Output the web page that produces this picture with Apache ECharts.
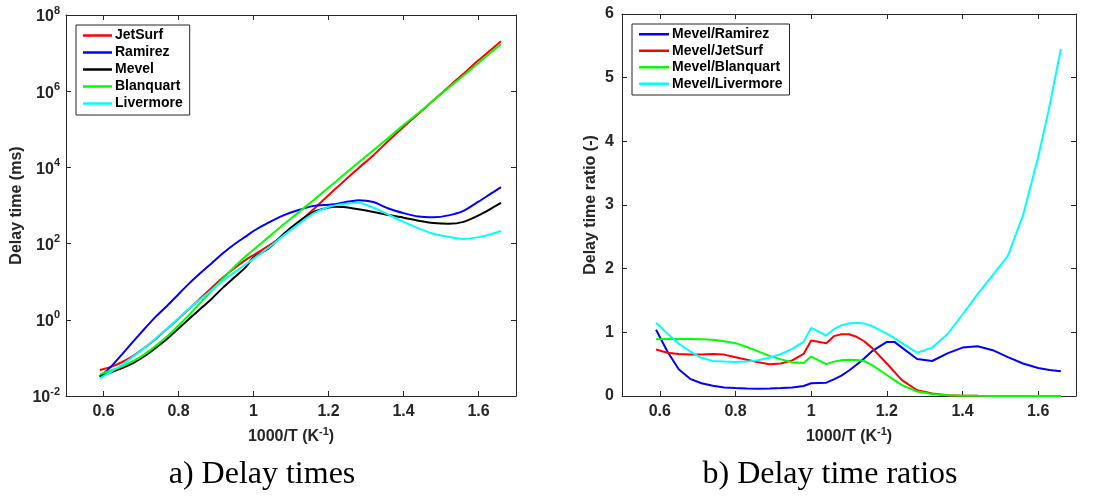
<!DOCTYPE html>
<html>
<head>
<meta charset="utf-8">
<script src="https://cdn.jsdelivr.net/npm/echarts@6/dist/echarts.min.js"></script>
<style>
  html, body { margin: 0; padding: 0; background: #fff; }
  #chart { width: 1119px; height: 498px; }
</style>
</head>
<body>
<div id="chart"></div>
<script>
// Ignition delay times (ms) against inverse temperature, one array per mechanism
const xDelay = [0.59, 0.62, 0.65, 0.68, 0.71, 0.74, 0.77, 0.80, 0.83, 0.86, 0.89, 0.92, 0.95, 0.98,
                1.00, 1.04, 1.08, 1.12, 1.16, 1.20, 1.22, 1.24,
                1.28, 1.32, 1.36, 1.40, 1.44, 1.48, 1.52, 1.56, 1.60, 1.63, 1.66];
const jetSurf = [0.048, 0.058, 0.078, 0.115, 0.186, 0.32, 0.58, 1.07, 2.0, 3.8, 7.2, 13.2, 23, 38,
                 50, 87, 166, 355, 794, 1860, 2820, 4270,
                 9550, 20900, 50100, 1.15e5, 2.57e5, 5.75e5, 1.29e6, 2.88e6, 6.46e6, 1.15e7, 2.04e7];
const ramirez = [0.032, 0.059, 0.126, 0.275, 0.59, 1.23, 2.34, 4.7, 9.3, 17.4, 31.6, 57.5, 98, 155,
                 214, 355, 550, 759, 977, 1047, 1096, 1202,
                 1380, 1230, 832, 631, 513, 490, 550, 724, 1259, 1950, 3020];
const mevel = [0.033, 0.042, 0.054, 0.074, 0.112, 0.186, 0.32, 0.59, 1.10, 2.0, 3.7, 7.2, 13.2, 24.5,
               43, 74, 178, 372, 676, 891, 933, 912,
               794, 676, 562, 479, 398, 347, 331, 372, 550, 794, 1175];
const blanquart = [0.037, 0.047, 0.060, 0.083, 0.126, 0.21, 0.37, 0.71, 1.41, 2.9, 6.0, 12.6, 25, 47,
                   69, 148, 316, 660, 1380, 2950, 4270, 6300,
                   13500, 28200, 60300, 1.29e5, 2.69e5, 5.75e5, 1.23e6, 2.57e6, 5.5e6, 9.8e6, 1.7e7];
const livermore = [0.029, 0.043, 0.066, 0.11, 0.186, 0.33, 0.59, 1.10, 2.04, 3.55, 6.2, 11, 17.8, 28.8,
                   40, 78, 162, 324, 617, 912, 1023, 1096,
                   1175, 871, 575, 372, 251, 182, 151, 132, 148, 174, 214];

// Ratios of the Mevel delay time to each other mechanism
const xRatio = [0.59, 0.62, 0.65, 0.68, 0.71, 0.74, 0.77, 0.80, 0.83, 0.86, 0.89, 0.92, 0.95, 0.98,
                1.00, 1.04, 1.06, 1.08, 1.10, 1.12, 1.14, 1.16, 1.20, 1.22, 1.24,
                1.28, 1.32, 1.36, 1.40, 1.44, 1.48, 1.52, 1.56, 1.60, 1.63, 1.66];
const ratioRamirez = [1.04, 0.70, 0.42, 0.27, 0.20, 0.16, 0.135, 0.125, 0.118, 0.115, 0.118, 0.125, 0.135, 0.157,
                      0.20, 0.21, 0.26, 0.32, 0.40, 0.49, 0.59, 0.70, 0.85, 0.85, 0.76,
                      0.58, 0.55, 0.67, 0.76, 0.78, 0.72, 0.61, 0.51, 0.44, 0.41, 0.39];
const ratioJetSurf = [0.73, 0.68, 0.66, 0.65, 0.65, 0.66, 0.65, 0.61, 0.57, 0.53, 0.50, 0.51, 0.56, 0.66,
                      0.87, 0.83, 0.94, 0.97, 0.97, 0.93, 0.86, 0.76, 0.51, 0.38, 0.25,
                      0.09, 0.04, 0.012, 0.004, 0.002, 0.001, 0, 0, 0, 0, 0];
const ratioBlanquart = [0.89, 0.895, 0.895, 0.895, 0.89, 0.885, 0.86, 0.83, 0.77, 0.70, 0.63, 0.575, 0.53, 0.52,
                        0.62, 0.50, 0.54, 0.56, 0.57, 0.565, 0.55, 0.49, 0.33, 0.25, 0.17,
                        0.07, 0.03, 0.012, 0.004, 0.002, 0.001, 0, 0, 0, 0, 0];
const ratioLivermore = [1.15, 0.98, 0.82, 0.70, 0.60, 0.55, 0.54, 0.535, 0.54, 0.56, 0.60, 0.66, 0.74, 0.85,
                        1.07, 0.95, 1.05, 1.11, 1.14, 1.15, 1.14, 1.10, 0.98, 0.91, 0.83,
                        0.68, 0.76, 0.97, 1.28, 1.60, 1.90, 2.20, 2.84, 3.75, 4.55, 5.45];

// Tick positions
const xTicks = [0.6, 0.8, 1.0, 1.2, 1.4, 1.6];
const logTicks = [1e-2, 1e0, 1e2, 1e4, 1e6, 1e8];

const AX = '#262626';
const FONT = '"Liberation Sans", Arial, sans-serif';

const pairs = (xs, ys) => xs.map((x, i) => [x, ys[i]]);

function line(name, color, xs, ys, xi, yi, smooth) {
  return {
    name, type: 'line', xAxisIndex: xi, yAxisIndex: yi,
    data: pairs(xs, ys), symbol: 'none', smooth: smooth,
    lineStyle: { color, width: 2 }, itemStyle: { color },
    emphasis: { disabled: true }, animation: false
  };
}

const supRich = {
  t: { fontSize: 16, fontWeight: 'bold', color: AX, fontFamily: FONT, verticalAlign: 'bottom' },
  s: { fontSize: 11, fontWeight: 'bold', color: AX, fontFamily: FONT, verticalAlign: 'bottom', padding: [0, 0, 8, 0] }
};

function xAxisPair(gi) {
  const base = {
    type: 'value', gridIndex: gi, min: 0.5, max: 1.7,
    splitLine: { show: false },
    axisLine: { show: true, onZero: false, lineStyle: { color: AX, width: 1 } },
    axisTick: { show: true, inside: true, length: 5, customValues: xTicks, lineStyle: { color: AX } }
  };
  return [
    Object.assign({}, base, {
      position: 'bottom',
      axisLabel: { customValues: xTicks, margin: 8, color: AX, fontSize: 16, fontWeight: 'bold', fontFamily: FONT,
                   formatter: v => (Math.abs(v - 1) < 1e-9 ? '1' : v.toFixed(1)) },
      name: '{t|1000/T (K}{s|-1}{t|)}', nameLocation: 'middle', nameGap: 30,
      nameTextStyle: { rich: supRich }
    }),
    Object.assign({}, base, { position: 'top', axisLabel: { show: false } })
  ];
}

function legendBox(names, left, top, rowHeight, itemWidth) {
  return {
    data: names,
    orient: 'vertical', left, top,
    icon: 'rect', itemWidth, itemHeight: 2.5, itemGap: 0,
    padding: [2, 7, 3, 7],
    borderColor: AX, borderWidth: 1, backgroundColor: '#fff',
    selectedMode: false,
    textStyle: { fontSize: 14, fontWeight: 'bold', color: '#000', fontFamily: FONT,
                 lineHeight: rowHeight, padding: [0, 0, 0, -2] }
  };
}

const option = {
  backgroundColor: '#fff',
  animation: false,
  grid: [
    { left: 66, top: 15, width: 450, height: 381 },
    { left: 622, top: 14, width: 454, height: 382 }
  ],
  xAxis: [...xAxisPair(0), ...xAxisPair(1)],
  yAxis: [
    {
      type: 'log', logBase: 10, gridIndex: 0, min: 1e-2, max: 1e8, position: 'left',
      splitLine: { show: false }, minorTick: { show: false },
      axisLine: { show: true, lineStyle: { color: AX, width: 1 } },
      axisTick: { show: true, inside: true, length: 5, customValues: logTicks, lineStyle: { color: AX } },
      axisLabel: {
        customValues: logTicks, margin: 6,
        formatter: v => '{b|10}{e|' + Math.round(Math.log10(v)) + '}',
        rich: {
          b: { fontSize: 16, fontWeight: 'bold', color: AX, fontFamily: FONT, verticalAlign: 'bottom' },
          e: { fontSize: 11, fontWeight: 'bold', color: AX, fontFamily: FONT, verticalAlign: 'bottom', padding: [0, 0, 9, 0] }
        }
      },
      name: 'Delay time (ms)', nameLocation: 'middle', nameGap: 41,
      nameTextStyle: { fontSize: 16, fontWeight: 'bold', color: AX, fontFamily: FONT }
    },
    {
      type: 'log', logBase: 10, gridIndex: 0, min: 1e-2, max: 1e8, position: 'right',
      splitLine: { show: false }, minorTick: { show: false },
      axisLine: { show: true, lineStyle: { color: AX, width: 1 } },
      axisTick: { show: true, inside: true, length: 5, customValues: logTicks, lineStyle: { color: AX } },
      axisLabel: { show: false }
    },
    {
      type: 'value', gridIndex: 1, min: 0, max: 6, interval: 1, position: 'left',
      splitLine: { show: false },
      axisLine: { show: true, lineStyle: { color: AX, width: 1 } },
      axisTick: { show: true, inside: true, length: 5, lineStyle: { color: AX } },
      axisLabel: { margin: 8, color: AX, fontSize: 16, fontWeight: 'bold', fontFamily: FONT },
      name: 'Delay time ratio (-)', nameLocation: 'middle', nameGap: 23,
      nameTextStyle: { fontSize: 16, fontWeight: 'bold', color: AX, fontFamily: FONT }
    },
    {
      type: 'value', gridIndex: 1, min: 0, max: 6, interval: 1, position: 'right',
      splitLine: { show: false },
      axisLine: { show: true, lineStyle: { color: AX, width: 1 } },
      axisTick: { show: true, inside: true, length: 5, lineStyle: { color: AX } },
      axisLabel: { show: false }
    }
  ],
  legend: [
    legendBox(['JetSurf', 'Ramirez', 'Mevel', 'Blanquart', 'Livermore'], 76, 25, 17, 29),
    legendBox(['Mevel/Ramirez', 'Mevel/JetSurf', 'Mevel/Blanquart', 'Mevel/Livermore'], 632, 24, 16.5, 30)
  ],
  series: [
    line('JetSurf', '#ff0000', xDelay, jetSurf, 0, 0, 0.25),
    line('Ramirez', '#0000ff', xDelay, ramirez, 0, 0, 0.25),
    line('Mevel', '#000000', xDelay, mevel, 0, 0, 0.25),
    line('Blanquart', '#00ff00', xDelay, blanquart, 0, 0, 0.25),
    line('Livermore', '#00ffff', xDelay, livermore, 0, 0, 0.25),
    line('Mevel/Ramirez', '#0000ff', xRatio, ratioRamirez, 2, 2, false),
    line('Mevel/JetSurf', '#ff0000', xRatio, ratioJetSurf, 2, 2, false),
    line('Mevel/Blanquart', '#00ff00', xRatio, ratioBlanquart, 2, 2, false),
    line('Mevel/Livermore', '#00ffff', xRatio, ratioLivermore, 2, 2, false)
  ],
  graphic: [
    { type: 'text', x: 262, y: 475, style: { text: 'a) Delay times', font: '32px "Liberation Serif", "Times New Roman", serif', fill: '#000', align: 'center', verticalAlign: 'middle' } },
    { type: 'text', x: 830, y: 475, style: { text: 'b) Delay time ratios', font: '32px "Liberation Serif", "Times New Roman", serif', fill: '#000', align: 'center', verticalAlign: 'middle' } }
  ]
};

const chart = echarts.init(document.getElementById('chart'), null, { renderer: 'canvas' });
chart.setOption(option);
</script>
</body>
</html>
